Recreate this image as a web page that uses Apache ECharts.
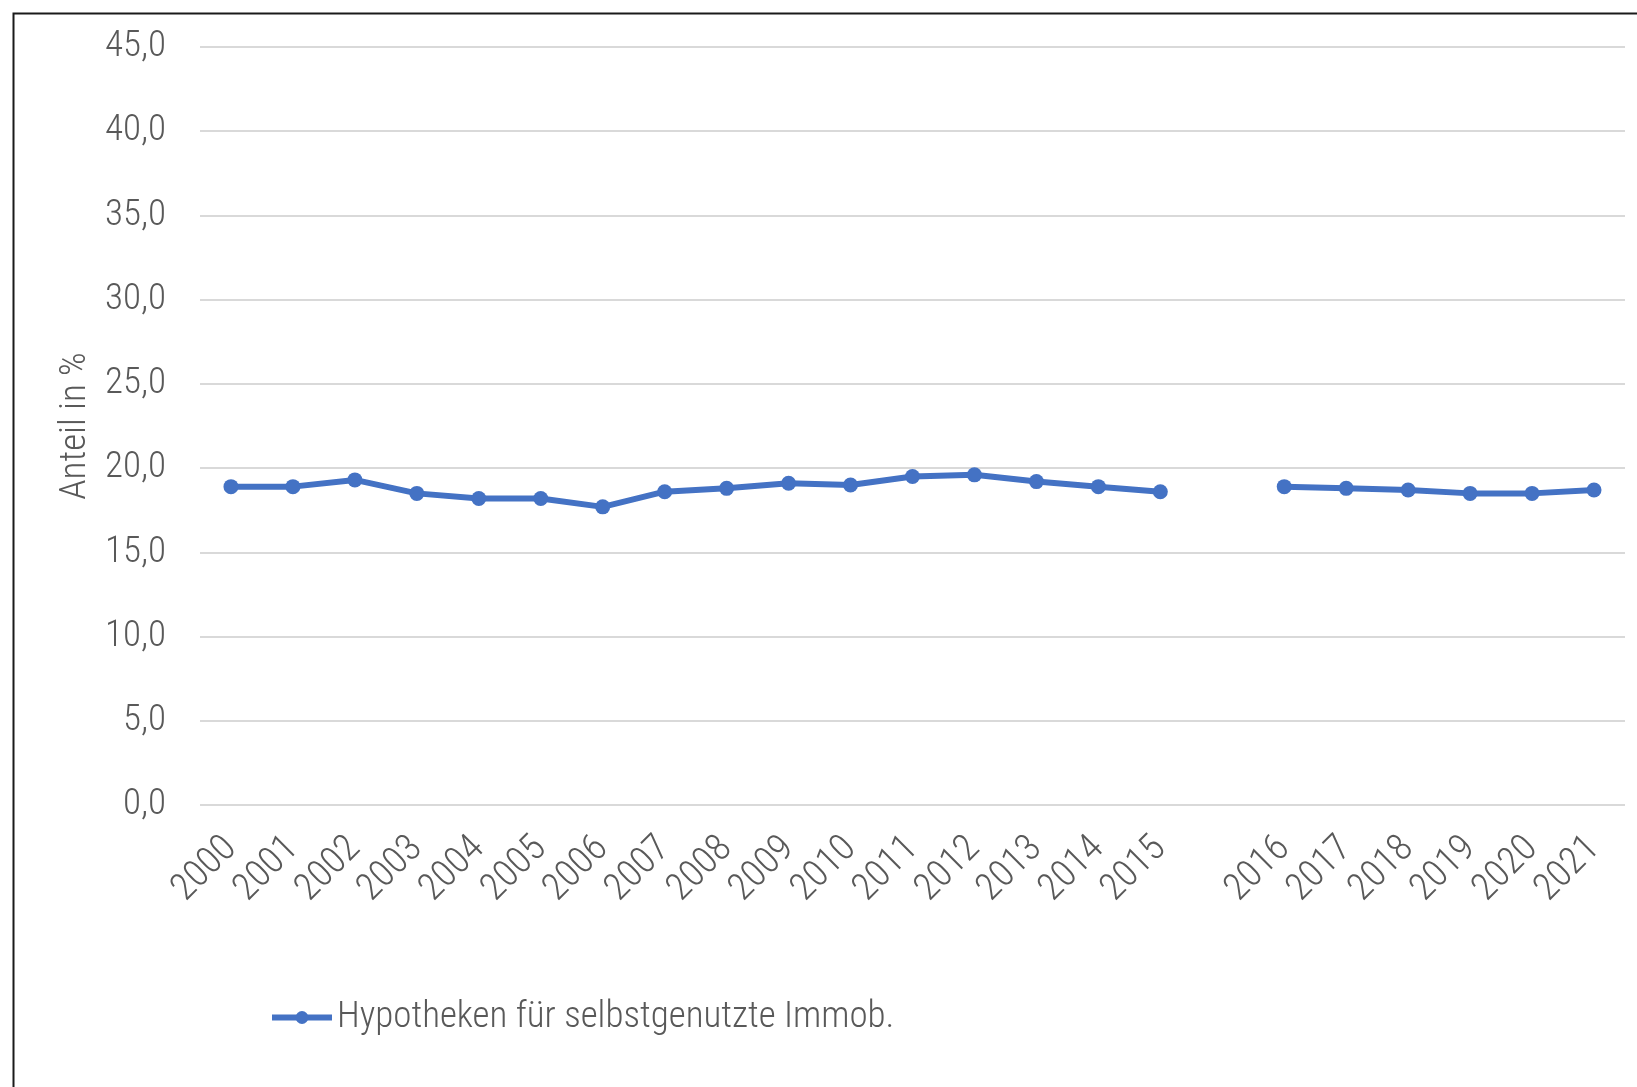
<!DOCTYPE html>
<html>
<head>
<meta charset="utf-8">
<script src="https://cdn.jsdelivr.net/npm/echarts@6/dist/echarts.min.js"></script>
<style>
  html, body { margin: 0; padding: 0; background: #fff; }
  #main { width: 1637px; height: 1087px; }
</style>
</head>
<body>
<div id="main"></div>
<script>
// Jahre, mit leerer Kategorie zwischen 2015 und 2016
var years = ["2000", "2001", "2002", "2003", "2004", "2005", "2006", "2007",
  "2008", "2009", "2010", "2011", "2012", "2013", "2014", "2015", "",
  "2016", "2017", "2018", "2019", "2020", "2021"];
var anteil = [18.9, 18.9, 19.3, 18.5, 18.2, 18.2, 17.7, 18.6,
  18.8, 19.1, 19.0, 19.5, 19.6, 19.2, 18.9, 18.6, null,
  18.9, 18.8, 18.7, 18.5, 18.5, 18.7];
var seriesName = "Hypotheken für selbstgenutzte Immob.";
var yMin = 0, yMax = 45, yStep = 5;

var font = "'Liberation Sans Narrow', 'Arial Narrow', 'Roboto Condensed', sans-serif";
var textColor = "#595959";

var myChart = echarts.init(document.getElementById("main"));
var option = {
  animation: false,
  backgroundColor: "#fff",
  graphic: [
    {
      type: "rect",
      left: 11,
      top: 11,
      shape: { x: 0, y: 0, width: 1700, height: 1200 },
      style: { fill: "none", stroke: "#1a1a1a", lineWidth: 2 },
      silent: true
    }
  ],
  grid: {
    left: 200,
    right: 12,
    top: 47,
    bottom: 282
  },
  legend: {
    data: [seriesName],
    left: 264,
    top: 994,
    itemWidth: 60,
    itemHeight: 16,
    lineStyle: { width: 6 },
    textStyle: {
      color: textColor,
      fontSize: 37,
      fontWeight: 300,
      fontFamily: font
    }
  },
  xAxis: [
    {
      type: "category",
      boundaryGap: true,
      data: years,
      axisLine: { show: false },
      axisTick: { show: false },
      axisLabel: {
        interval: 0,
        rotate: 45,
        margin: 38,
        color: textColor,
        fontSize: 38,
        fontWeight: 300,
        fontFamily: font
      }
    }
  ],
  yAxis: [
    {
      type: "value",
      min: yMin,
      max: yMax,
      interval: yStep,
      name: "Anteil in %",
      nameLocation: "middle",
      nameGap: 106,
      nameTextStyle: {
        color: textColor,
        fontSize: 37,
        fontWeight: 300,
        fontFamily: font
      },
      axisLine: { show: false },
      axisTick: { show: false },
      splitLine: {
        lineStyle: { color: "#d9d9d9", width: 2 }
      },
      axisLabel: {
        margin: 34,
        color: textColor,
        fontSize: 37,
        fontWeight: 300,
        fontFamily: font,
        formatter: function (v) {
          return v.toFixed(1).replace(".", ",");
        }
      }
    }
  ],
  series: [
    {
      name: seriesName,
      type: "line",
      data: anteil,
      connectNulls: false,
      symbol: "circle",
      symbolSize: 15,
      color: "#4472c4",
      lineStyle: { width: 6, color: "#4472c4" },
      itemStyle: { color: "#4472c4" }
    }
  ]
};
myChart.setOption(option);
</script>
</body>
</html>
